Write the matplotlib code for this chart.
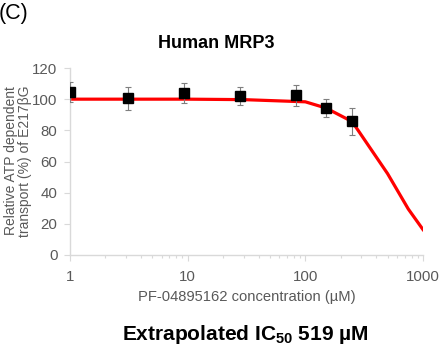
import matplotlib
matplotlib.use("Agg")
import matplotlib.pyplot as plt
from matplotlib.ticker import LogLocator, NullFormatter, FixedLocator, FixedFormatter

plt.rcParams['font.family'] = ['Liberation Sans', 'DejaVu Sans']
plt.rcParams['mathtext.fontset'] = 'custom'
plt.rcParams['mathtext.rm'] = 'Liberation Sans'
plt.rcParams['mathtext.bf'] = 'Liberation Sans:bold'

# Data
conc = [1, 3.09, 9.26, 27.8, 83.3, 150, 250]
transport = [104.8, 100.6, 103.8, 102.2, 102.4, 94.3, 85.8]
err = [6.5, 7.4, 6.4, 5.8, 6.7, 5.9, 8.6]

fit_x = [1, 3, 10, 30, 100, 150, 250, 500, 750, 1000]
fit_y = [100, 100, 100, 99.7, 98.3, 94.3, 85.6, 52.2, 29.5, 16.3]

xticks = [1, 10, 100, 1000]
xticklabels = ["1", "10", "100", "1000"]
yticks = [0, 20, 40, 60, 80, 100, 120]

W, H = 443, 354
fig = plt.figure(figsize=(W / 100, H / 100), dpi=100)
ax = fig.add_axes([70 / W, 1 - 255 / H, (423 - 70) / W, (255 - 68) / H])

grey_axis = '#d9d9d9'
grey_text = '#595959'

ax.plot(fit_x, fit_y, color='#ff0000', lw=2.3, zorder=2, solid_joinstyle='round')
ax.errorbar(conc, transport, yerr=err, fmt='none', ecolor='#7f7f7f',
            elinewidth=0.8, capsize=2, capthick=0.8, zorder=3)
ax.plot(conc, transport, 's', color='black', markersize=7, zorder=4)

ax.set_xscale('log')
ax.set_xlim(1, 1000)
ax.set_ylim(0, 120)
ax.xaxis.set_major_locator(FixedLocator(xticks))
ax.xaxis.set_major_formatter(FixedFormatter(xticklabels))
ax.xaxis.set_minor_locator(LogLocator(base=10, subs=range(2, 10)))
ax.xaxis.set_minor_formatter(NullFormatter())
ax.set_yticks(yticks)

for s in ['top', 'right']:
    ax.spines[s].set_visible(False)
for s in ['left', 'bottom']:
    ax.spines[s].set_color(grey_axis)
    ax.spines[s].set_linewidth(1.0)

ax.tick_params(axis='both', which='major', direction='out', length=4, width=0.8,
               color=grey_axis, labelcolor=grey_text, labelsize=10.8, pad=5)
ax.tick_params(axis='x', which='minor', direction='out', length=2.5, width=0.8,
               color=grey_axis)
ax.tick_params(axis='x', which='major', pad=7)

ax.set_xlabel('PF-04895162 concentration (µM)', color=grey_text, fontsize=10.6, labelpad=4)

fig.text(18 / W, 1 - 161 / H, 'Relative ATP dependent\ntransport (%) of E217βG',
         rotation=90, ha='center', va='center', color=grey_text, fontsize=10,
         linespacing=1.05)

fig.text(216 / W, 1 - 43.5 / H, 'Human MRP3', ha='center', va='center',
         fontsize=13, fontweight='bold', color='black')
fig.text(-1 / W, 1 - 14 / H, '(C)', ha='left', va='center', fontsize=15.5, color='black')
fig.text(245.5 / W, 1 - 334 / H, r'Extrapolated IC$_{\mathbf{50}}$ 519 µM',
         ha='center', va='center', fontsize=15, fontweight='bold', color='black')

fig.savefig('out.png', dpi=100)
